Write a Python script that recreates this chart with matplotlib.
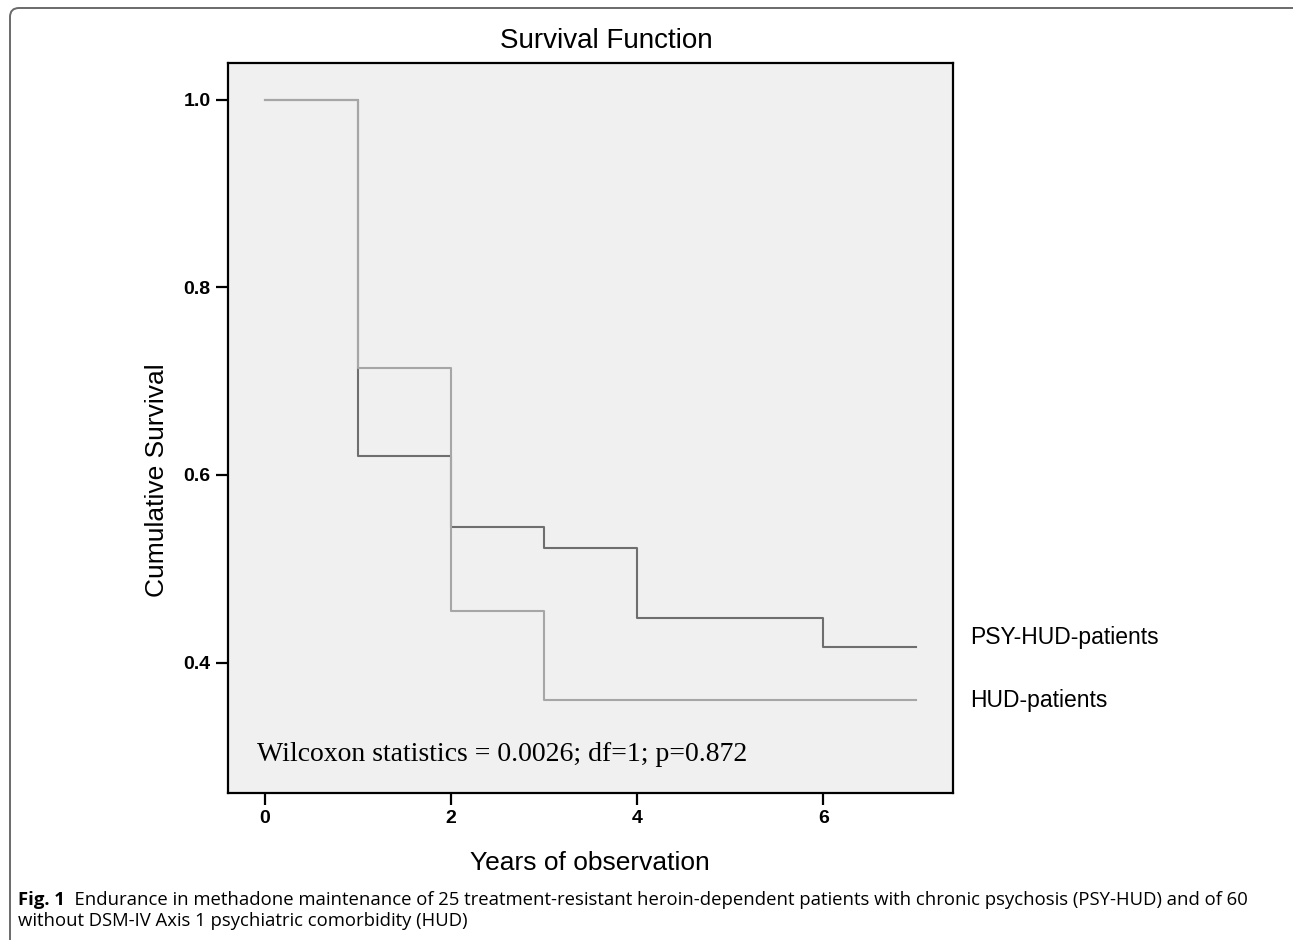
import matplotlib
matplotlib.use("Agg")
import matplotlib.pyplot as plt
from matplotlib.patches import FancyBboxPatch
from matplotlib.transforms import IdentityTransform

# Kaplan-Meier steps
PSY_T = [0, 1, 2, 3, 4, 6, 7]
PSY_S = [1.0, 0.62, 0.544, 0.522, 0.448, 0.417, 0.417]
HUD_T = [0, 1, 2, 3, 7]
HUD_S = [1.0, 0.714, 0.455, 0.36, 0.36]
XTICKS = [0, 2, 4, 6]
YTICKS = [0.4, 0.6, 0.8, 1.0]

SANS = "Liberation Sans"
CAP = "Open Sans"
DARK = "#6e6e6e"
LIGHT = "#a6a6a6"

W, H = 1293, 940
fig = plt.figure(figsize=(W / 100, H / 100), dpi=100)
fig.patch.set_facecolor("white")

# axes box in pixel terms: left 228, right 953, top 63, bottom 793
ax = fig.add_axes([228 / W, 1 - 793 / H, (953 - 228) / W, (793 - 63) / H])
ax.set_facecolor("#f0f0f0")
ax.step(PSY_T, PSY_S, where="post", color=DARK, lw=1.5)
ax.step(HUD_T, HUD_S, where="post", color=LIGHT, lw=1.5)

ax.set_xlim(-0.393, 7.394)
ax.set_ylim(0.261, 1.039)
ax.set_xticks(XTICKS)
ax.set_xticklabels([str(t) for t in XTICKS])
ax.set_yticks(YTICKS)
ax.set_yticklabels([f"{t:.1f}" for t in YTICKS])
ax.tick_params(direction="out", length=8.5, width=1.6, color="black",
               labelsize=14, pad=4)
for lab in ax.get_xticklabels() + ax.get_yticklabels():
    lab.set_fontfamily(SANS)
    lab.set_fontweight("bold")
for s in ax.spines.values():
    s.set_linewidth(1.6)
    s.set_color("black")

# end-of-curve labels and test statistic
lx = 7.394 + (970 - 953) / 93.1
ax.text(lx, PSY_S[-1] + 0.0095, "PSY-HUD-patients", family=SANS,
        fontsize=16.5, va="center", ha="left", clip_on=False)
ax.text(lx, HUD_S[-1], "HUD-patients", family=SANS,
        fontsize=16.5, va="center", ha="left", clip_on=False)
ax.text(-0.08, 0.302, "Wilcoxon statistics = 0.0026; df=1; p=0.872",
        family="Liberation Serif", fontsize=20, va="center", ha="left")

fig.text(606 / W, 1 - 41 / H, "Survival Function", family=SANS, fontsize=20,
         ha="center", va="center")
fig.text(157 / W, 1 - 480 / H, "Cumulative Survival", family=SANS, fontsize=19,
         rotation=90, ha="center", va="center")
fig.text(590 / W, 1 - 863 / H, "Years of observation", family=SANS, fontsize=19,
         ha="center", va="center")

# caption
cap = fig.text(18 / W, 1 - 900 / H, "Fig. 1", family=CAP,
               fontweight="bold", fontsize=13.3, ha="left", va="center")
plt.annotate("  Endurance in methadone maintenance of 25 treatment-resistant "
             "heroin-dependent patients with chronic psychosis (PSY-HUD) and of 60",
             xy=(1, 0.5), xycoords=cap, va="center", ha="left",
             family=CAP, fontsize=13.3, annotation_clip=False)
fig.text(18 / W, 1 - 921 / H,
         "without DSM-IV Axis 1 psychiatric comorbidity (HUD)",
         family=CAP, fontsize=13.3, ha="left", va="center")

# page frame: only the top-left corner is inside the crop
frame = FancyBboxPatch((10, -100), 1500, H - 8 + 100,
                       boxstyle="round,pad=0,rounding_size=9",
                       transform=IdentityTransform(), fill=False,
                       edgecolor="#6a6a6a", lw=1.4)
fig.add_artist(frame)

fig.savefig("out.png", dpi=100)
